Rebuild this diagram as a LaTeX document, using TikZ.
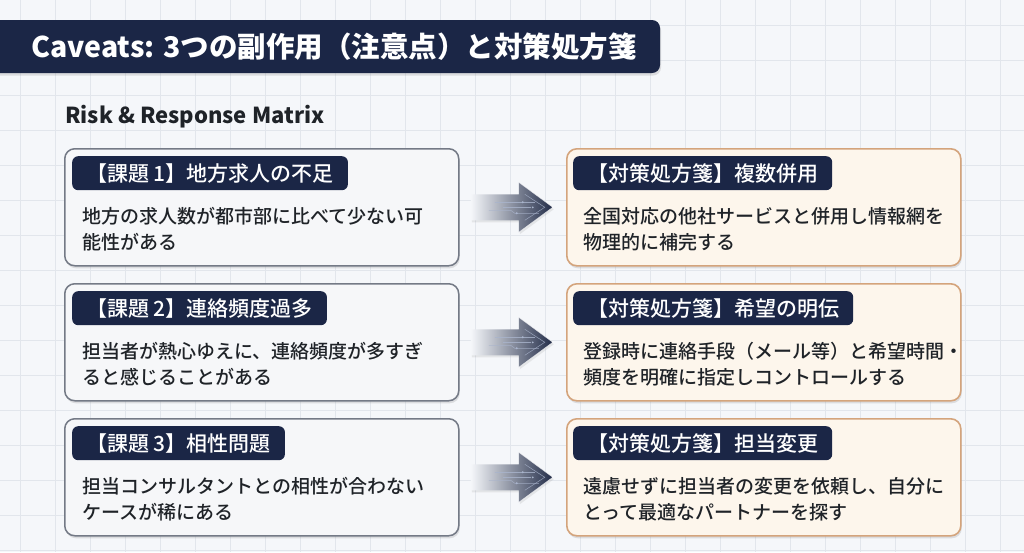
\documentclass[tikz,border=0pt]{standalone}
\usepackage{fontspec}
\setmainfont{Noto Sans CJK JP}
\newfontfamily\jpmed{Noto Sans CJK JP Medium}
\usetikzlibrary{shadows,calc}
\definecolor{bgc}{HTML}{F5F7FA}
\definecolor{gridc}{HTML}{E2E6EC}
\definecolor{navy}{HTML}{1B2646}
\definecolor{lfill}{HTML}{F6F7F9}
\definecolor{lborder}{HTML}{747A86}
\definecolor{rfill}{HTML}{FDF6EC}
\definecolor{rborder}{HTML}{D4A47C}
\definecolor{textc}{HTML}{1F2328}
\definecolor{arrowmid}{HTML}{6A7590}
\definecolor{arrowdark}{HTML}{222C48}
\definecolor{circuit}{HTML}{A9B4CC}
\begin{document}
\begin{tikzpicture}[x=1pt,y=-1pt,
  softshadow/.style={drop shadow={opacity=0.22, shadow xshift=1pt, shadow yshift=-2.5pt}},
  lbox/.style={draw=lborder, line width=1.5pt, fill=lfill, rounded corners=10pt,
    minimum width=394pt, minimum height=117pt, anchor=north west, inner sep=0pt, softshadow},
  rbox/.style={draw=rborder, line width=1.6pt, fill=rfill, rounded corners=10pt,
    minimum width=394pt, minimum height=117pt, anchor=north west, inner sep=0pt, softshadow},
  tagbox/.style={fill=navy, rounded corners=6pt, text=white, minimum height=34pt,
    inner xsep=14pt, inner ysep=0pt, anchor=north west, font=\jpmed\fontsize{21}{24}\selectfont},
  bodytext/.style={anchor=west, inner sep=0pt, text=textc, font=\jpmed\fontsize{19}{24}\selectfont},
  circ/.style={draw=circuit, line width=0.5pt, opacity=0.8}
]
\useasboundingbox (0,0) rectangle (1024,552);
\fill[bgc] (0,0) rectangle (1024,552);
\foreach \gx in {20,55,...,1010} \draw[gridc, line width=0.7pt] (\gx,0) -- (\gx,552);
\foreach \gy in {25,60,...,550} \draw[gridc, line width=0.7pt] (0,\gy) -- (1024,\gy);

% title bar
\fill[navy, rounded corners=8pt, softshadow] (-12,20) rectangle (660,73);
\node[anchor=west, inner sep=0pt, text=white, font=\bfseries\fontsize{28.5}{32}\selectfont] (title) at (31,47)
  {Caveats: 3つの副作用（注意点）と対策処方箋};
\node[anchor=west, inner sep=0pt, text=textc, font=\bfseries\fontsize{22}{26}\selectfont] (sub) at (65,117)
  {Risk \& Response Matrix};

\foreach \r/\yt/\tagL/\la/\lb/\tagR/\ra/\rb in {
  1/148/【課題 1】地方求人の不足/地方の求人数が都市部に比べて少ない可/能性がある/【対策処方箋】複数併用/全国対応の他社サービスと併用し情報網を/物理的に補完する,
  2/283/【課題 2】連絡頻度過多/担当者が熱心ゆえに、連絡頻度が多すぎ/ると感じることがある/【対策処方箋】希望の明伝/登録時に連絡手段（メール等）と希望時間・/頻度を明確に指定しコントロールする,
  3/418/【課題 3】相性問題/担当コンサルタントとの相性が合わない/ケースが稀にある/【対策処方箋】担当変更/遠慮せずに担当者の変更を依頼し、自分に/とって最適なパートナーを探す}
{
  \node[lbox] (L\r) at (64,\yt) {};
  \node[rbox] (R\r) at (566,\yt) {};
  \node[tagbox] (LT\r) at ($(L\r.north west)+(8,8)$) {\tagL};
  \node[tagbox] (RT\r) at ($(R\r.north west)+(7,8)$) {\tagR};
  \node[bodytext] (LA\r) at ($(L\r.north west)+(18,68)$) {\la};
  \node[bodytext] (LB\r) at ($(L\r.north west)+(18,94)$) {\lb};
  \node[bodytext] (RA\r) at ($(R\r.north west)+(17,68)$) {\ra};
  \node[bodytext] (RB\r) at ($(R\r.north west)+(17,94)$) {\rb};
  \coordinate (C\r) at ($(L\r.east)!0.5!(R\r.west)$);
  \begin{scope}[shift={(C\r)}]
    \shade[left color=bgc, middle color=arrowmid, right color=arrowdark, drop shadow={opacity=0.15, shadow xshift=1pt, shadow yshift=-2pt}]
      (-42,-13) -- (6,-13) -- (6,-25) -- (40,0) -- (6,25) -- (6,13) -- (-42,13) -- cycle;
    \draw[white, line width=0.6pt, opacity=0.7] (6,-25) -- (40,0) -- (6,25);
    \draw[circ] (-18,-5) -- (22,-5);
    \fill[circuit] (10,-5) circle (1.2pt);
    \draw[circ] (-24,3) -- (-2,3) -- (2,6) -- (26,6);
    \fill[circuit] (4,6) circle (1.2pt);
    \draw[circ] (-10,0) -- (18,0);
    \fill[circuit] (20,0) circle (1pt);
    \draw[circ] (12,-13) -- (32,0) -- (12,13);
  \end{scope}
}
\end{tikzpicture}
\end{document}
